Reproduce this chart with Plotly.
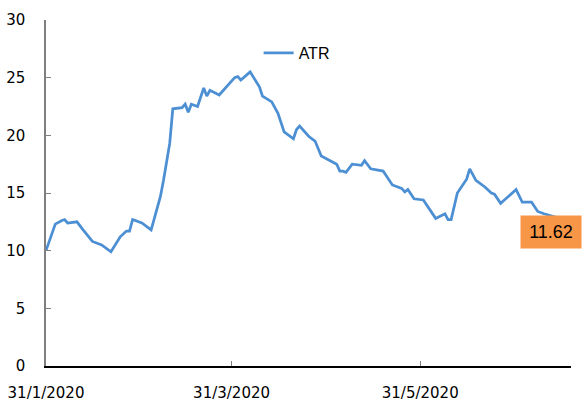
import plotly.graph_objects as go

dates = [
    "2020-01-31", "2020-02-03", "2020-02-05", "2020-02-06", "2020-02-07", "2020-02-10",
    "2020-02-12", "2020-02-15", "2020-02-18", "2020-02-20", "2020-02-21", "2020-02-24",
    "2020-02-26", "2020-02-27", "2020-02-28", "2020-03-02", "2020-03-04", "2020-03-05",
    "2020-03-08", "2020-03-09", "2020-03-11", "2020-03-12", "2020-03-15", "2020-03-16",
    "2020-03-17", "2020-03-18", "2020-03-20", "2020-03-22", "2020-03-23", "2020-03-24",
    "2020-03-27", "2020-04-01", "2020-04-02", "2020-04-03", "2020-04-06", "2020-04-09",
    "2020-04-10", "2020-04-13", "2020-04-15", "2020-04-17", "2020-04-20", "2020-04-21",
    "2020-04-22", "2020-04-23", "2020-04-25", "2020-04-27", "2020-04-29", "2020-05-04",
    "2020-05-05", "2020-05-06", "2020-05-07", "2020-05-09", "2020-05-12", "2020-05-13",
    "2020-05-15", "2020-05-19", "2020-05-22", "2020-05-25", "2020-05-26", "2020-05-27",
    "2020-05-29", "2020-06-01", "2020-06-05", "2020-06-08", "2020-06-09", "2020-06-10",
    "2020-06-12", "2020-06-15", "2020-06-16", "2020-06-18", "2020-06-21", "2020-06-23",
    "2020-06-24", "2020-06-26", "2020-07-01", "2020-07-03", "2020-07-06", "2020-07-08",
    "2020-07-10", "2020-07-14",
]
atr = [
    10.0, 12.3, 12.6, 12.7, 12.4, 12.5,
    11.8, 10.8, 10.5, 10.1, 9.9, 11.2,
    11.7, 11.7, 12.7, 12.4, 12.0, 11.8,
    14.7, 16.1, 19.3, 22.3, 22.4, 22.7,
    22.0, 22.7, 22.5, 24.1, 23.4, 23.9,
    23.5, 25.0, 25.1, 24.8, 25.5, 24.2,
    23.4, 22.9, 21.9, 20.3, 19.7, 20.5,
    20.8, 20.5, 19.9, 19.5, 18.2, 17.5,
    16.9, 16.9, 16.8, 17.5, 17.4, 17.8,
    17.1, 16.9, 15.7, 15.4, 15.1, 15.3,
    14.5, 14.4, 12.8, 13.2, 12.7, 12.7,
    15.0, 16.2, 17.1, 16.1, 15.5, 15.0,
    14.9, 14.1, 15.3, 14.2, 14.2, 13.4,
    13.2, 12.9,
]
tick_vals = ["2020-01-31", "2020-03-31", "2020-05-31"]
tick_text = ["31/1/2020", "31/3/2020", "31/5/2020"]
y_ticks = [0, 5, 10, 15, 20, 25, 30]
last_value = 11.62

fig = go.Figure()
fig.add_trace(go.Scatter(
    x=dates, y=atr, mode="lines", name="ATR",
    line=dict(color="#4D8FD3", width=2.75),
))

fig.update_layout(
    width=583, height=405,
    margin=dict(l=46, r=12, t=20, b=39),
    plot_bgcolor="white", paper_bgcolor="white",
    font=dict(family="DejaVu Sans", size=15, color="black"),
    showlegend=True,
    legend=dict(
        x=0.405, y=0.905, xanchor="left", yanchor="middle",
        font=dict(family="Liberation Sans", size=16, color="black"),
        bgcolor="rgba(0,0,0,0)",
    ),
)
fig.update_xaxes(
    type="date", range=["2020-01-31", "2020-07-18 18:00"],
    tickvals=tick_vals, ticktext=tick_text,
    ticks="inside", ticklen=5, tickcolor="#7f7f7f",
    showline=True, linecolor="black", linewidth=1.5,
    showgrid=False, zeroline=False, ticklabelstandoff=12,
    automargin=False, ticklabeloverflow="allow",
)
fig.update_yaxes(
    range=[0, 30], tickvals=y_ticks,
    ticks="inside", ticklen=5, tickcolor="#7f7f7f",
    showline=True, linecolor="#7f7f7f", linewidth=1.5,
    showgrid=False, zeroline=False, ticklabelstandoff=16,
    automargin=False, ticklabeloverflow="allow",
)
fig.add_annotation(
    xref="paper", yref="y", x=0.962, y=last_value,
    text=f"{last_value:.2f}", showarrow=False,
    bgcolor="#F79646", width=58, height=30,
    font=dict(family="Liberation Sans", size=18, color="black"),
    xanchor="center", yanchor="middle",
)

fig.write_html(
    "out.html",
    config={"displayModeBar": False},
    post_script="document.body.style.margin='0px';",
)
